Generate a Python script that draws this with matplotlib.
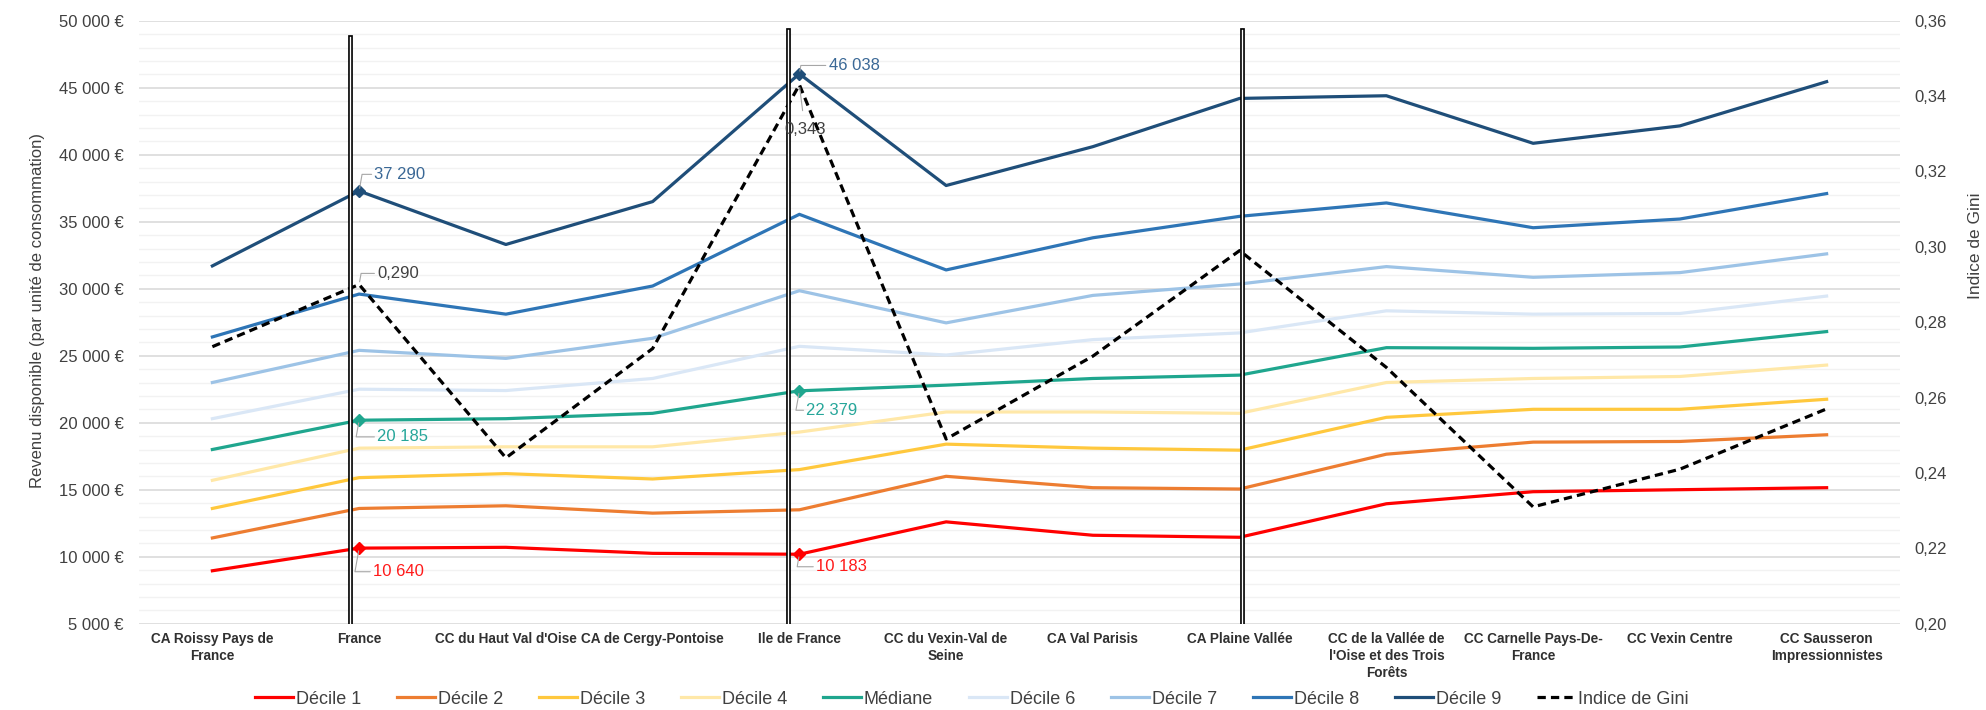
"""
Revenu disponible par décile et indice de Gini - territoires du Val d'Oise
"""
import matplotlib
matplotlib.use("Agg")
import matplotlib.pyplot as plt
from matplotlib.ticker import MultipleLocator, FuncFormatter

plt.rcParams["font.family"] = ["Liberation Sans", "DejaVu Sans"]

# --- données ---
territoires = [
    "CA Roissy Pays de\nFrance", "France", "CC du Haut Val d'Oise", "CA de Cergy-Pontoise",
    "Ile de France", "CC du Vexin-Val de\nSeine", "CA Val Parisis", "CA Plaine Vallée",
    "CC de la Vallée de\nl'Oise et des Trois\nForêts", "CC Carnelle Pays-De-\nFrance",
    "CC Vexin Centre", "CC Sausseron\nImpressionnistes",
]
decile_1 = [8950, 10640, 10700, 10250, 10183, 12600, 11600, 11450, 13950, 14850, 15000, 15150]
decile_2 = [11400, 13600, 13800, 13250, 13500, 16000, 15150, 15050, 17650, 18550, 18600, 19100]
decile_3 = [13600, 15900, 16200, 15800, 16500, 18400, 18100, 17950, 20400, 21000, 21000, 21750]
decile_4 = [15700, 18100, 18200, 18200, 19300, 20800, 20800, 20700, 23000, 23300, 23450, 24300]
mediane = [18000, 20185, 20300, 20700, 22379, 22800, 23300, 23550, 25600, 25550, 25650, 26800]
decile_6 = [20300, 22500, 22400, 23300, 25700, 25050, 26200, 26700, 28350, 28100, 28150, 29450]
decile_7 = [23000, 25400, 24800, 26300, 29850, 27450, 29500, 30350, 31650, 30850, 31200, 32600]
decile_8 = [26400, 29600, 28100, 30200, 35550, 31400, 33800, 35400, 36400, 34550, 35200, 37100]
decile_9 = [31700, 37290, 33300, 36500, 46038, 37700, 40600, 44200, 44400, 40850, 42150, 45450]
gini = [0.2735, 0.290, 0.244, 0.273, 0.343, 0.249, 0.271, 0.299, 0.268, 0.231, 0.241, 0.257]

series = [
    ("Décile 1", decile_1, "#FF0000"),
    ("Décile 2", decile_2, "#ED7D31"),
    ("Décile 3", decile_3, "#FFC83D"),
    ("Décile 4", decile_4, "#FFE8A8"),
    ("Médiane", mediane, "#1FA68E"),
    ("Décile 6", decile_6, "#DAE7F6"),
    ("Décile 7", decile_7, "#9DC3E6"),
    ("Décile 8", decile_8, "#2E75B6"),
    ("Décile 9", decile_9, "#1F4E79"),
]

# territoires de référence (séparateurs doubles) : décalage en fraction de catégorie, hauteur
separateurs = [("France", -0.06, 0.973), ("Ile de France", -0.075, 0.985), ("CA Plaine Vallée", 0.015, 0.985)]

TXT = "#404040"

fig = plt.figure(figsize=(19.86, 7.10), dpi=100)
ax = fig.add_axes([139 / 1986, 86.3 / 710, 1761 / 1986, 603 / 710])
ax2 = ax.twinx()

x = list(range(len(territoires)))
handles = []
for nom, vals, col in series:
    (h,) = ax.plot(x, vals, color=col, lw=2.3, label=nom, zorder=3)
    handles.append(h)
(hg,) = ax2.plot(x, gini, color="black", lw=2.3, ls=(0, (2.6, 1.6)), label="Indice de Gini", zorder=4)
handles.append(hg)

ax.set_xlim(-0.5, len(territoires) - 0.5)
ax.set_ylim(5000, 50000)
ax2.set_ylim(0.20, 0.36)

# grilles
ax.yaxis.set_major_locator(MultipleLocator(5000))
ax.yaxis.set_minor_locator(MultipleLocator(1000))
ax.grid(axis="y", which="major", color="#DADADA", lw=1.2, zorder=0)
ax.grid(axis="y", which="minor", color="#F2F2F2", lw=1.0, zorder=0)
ax.set_axisbelow(True)
ax2.yaxis.set_major_locator(MultipleLocator(0.02))

ax.yaxis.set_major_formatter(FuncFormatter(lambda v, p: f"{int(v):,} €".replace(",", " ")))
ax2.yaxis.set_major_formatter(FuncFormatter(lambda v, p: f"{v:.2f}".replace(".", ",")))

for a in (ax, ax2):
    for s in a.spines.values():
        s.set_visible(False)
ax.tick_params(axis="y", which="both", length=0, labelsize=12, labelcolor=TXT, pad=11)
ax2.tick_params(axis="y", length=0, labelsize=12, labelcolor=TXT, pad=10)
ax.set_xticks(x)
ax.set_xticklabels(territoires, fontsize=9.8, fontweight="bold", color="#303030", linespacing=1.25, va="top")
ax.tick_params(axis="x", length=0, pad=6)

ax.set_ylabel("Revenu disponible (par unité de consommation)", fontsize=12, color=TXT)
ax.yaxis.set_label_coords(-0.0535, 0.52)
ax2.set_ylabel("Indice de Gini", fontsize=12.5, color=TXT)
ax2.yaxis.set_label_coords(1.0385, 0.627)

# séparateurs verticaux (double trait)
for nom, dx, top in separateurs:
    xi = territoires.index(nom) + dx
    ax2.axvline(xi, ymin=0.0, ymax=top, color="black", lw=3.4, zorder=6)
    ax2.axvline(xi, ymin=0.0, ymax=top, color="white", lw=1.0, zorder=7)

# points mis en évidence + étiquettes
i_fr = territoires.index("France")
i_idf = territoires.index("Ile de France")
for nom, vals, col in series:
    if nom in ("Décile 1", "Médiane", "Décile 9"):
        ax.plot([i_fr, i_idf], [vals[i_fr], vals[i_idf]], ls="none", marker="D", ms=6,
                color=col, zorder=5)

lead = dict(arrowstyle="-", color="#A6A6A6", lw=0.8, shrinkA=0, shrinkB=2,
            connectionstyle="angle,angleA=0,angleB=80,rad=0")
etiquettes = [
    (decile_9, i_fr, "37 290", "#3A6896", (11, 12)),
    (decile_9, i_idf, "46 038", "#3A6896", (21, 6)),
    (mediane, i_fr, "20 185", "#26A69A", (13, -12)),
    (mediane, i_idf, "22 379", "#26A69A", (5, -14)),
    (decile_1, i_fr, "10 640", "#FF1A1A", (10, -17)),
    (decile_1, i_idf, "10 183", "#FF1A1A", (12, -9)),
]
for vals, i, txt, col, off in etiquettes:
    ax.annotate(txt, (i, vals[i]), xytext=off, textcoords="offset points", fontsize=12,
                color=col, ha="left", va="center", arrowprops=lead, zorder=8)

ax2.annotate("0,290", (i_fr, gini[i_fr]), xytext=(13, 8), textcoords="offset points",
             fontsize=12, color=TXT, ha="left", va="center", arrowprops=lead, zorder=8)
ax2.annotate("0,343", (i_idf, gini[i_idf]), xytext=(4, -32), textcoords="offset points",
             fontsize=12, color=TXT, ha="center", va="center",
             arrowprops=dict(arrowstyle="-", color="#A6A6A6", lw=0.8, shrinkA=6, shrinkB=2), zorder=8)

fig.legend(handles=handles, loc="center", bbox_to_anchor=(972 / 1986, 11 / 710), ncol=10,
           frameon=False, fontsize=13, handlelength=2.1, handletextpad=0.15, columnspacing=2.0,
           labelcolor=TXT)

fig.savefig("out.png", dpi=100)
plt.close(fig)
